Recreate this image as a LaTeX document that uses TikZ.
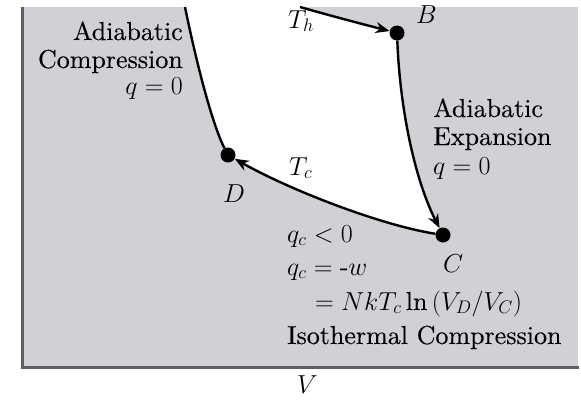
\RequirePackage{fix-cm}
\documentclass[tikz,border=0pt]{standalone}
\usepackage{fontspec}
\setmainfont{lmroman10-regular}[Extension=.otf, UprightFeatures={FakeBold=0.2}, ItalicFont=lmroman10-italic, BoldFont=lmroman10-bold]
\usetikzlibrary{arrows.meta}
\definecolor{bgray}{RGB}{208,208,213}
\definecolor{axgray}{RGB}{95,95,95}
\begin{document}
\begin{tikzpicture}[x=1pt,y=-1pt,
  lbl/.style={font=\fontsize{26}{30}\selectfont, inner sep=0pt},
  curve/.style={line width=2.4pt, black},
  flow/.style={curve, -{Stealth[length=14pt,width=11pt]}},
  dot/.style={circle, fill=black, minimum size=15pt, inner sep=0pt}]
\useasboundingbox (0,0) rectangle (581,399);
\fill[bgray] (22,7) rectangle (578,367);
\coordinate (A1) at (185,7);
\coordinate (A2) at (300,7);
\coordinate (Bc) at (397,33);
\coordinate (Cc) at (443,235);
\coordinate (Dc) at (228,155);
\fill[white] (A1) -- (A2) .. controls (335,17) and (366,25) .. (Bc)
  .. controls (400,110) and (415,180) .. (Cc)
  .. controls (380,225) and (290,190) .. (Dc)
  .. controls (215,130) and (200,80) .. (A1) -- cycle;
\node[dot] (B) at (Bc) {};
\node[dot] (C) at (Cc) {};
\node[dot] (D) at (Dc) {};
\draw[flow] (A2) .. controls (335,17) and (366,25) .. (B);
\draw[flow] (B) .. controls (400,110) and (415,180) .. (C);
\draw[flow] (C) .. controls (380,225) and (290,190) .. (D);
\draw[curve] (D) .. controls (215,130) and (200,80) .. (A1);
\draw[axgray, line width=2.5pt] (22.5,7) -- (22.5,367.5) -- (579,367.5);
% labels
\node[lbl, anchor=base east] (adL1) at (183,40) {Adiabatic};
\node[lbl, anchor=base east] (adL2) at (183,68) {Compression};
\node[lbl, anchor=base east] (adL3) at (183,94) {$q = 0$};
\node[lbl, anchor=base west] (adR1) at (433,117) {Adiabatic};
\node[lbl, anchor=base west] (adR2) at (433,145) {Expansion};
\node[lbl, anchor=base west] (adR3) at (433,174) {$q = 0$};
\node[lbl, anchor=base west] (q1) at (287,242) {$q_c < 0$};
\node[lbl, anchor=base west] (q2) at (287,275) {$q_c = \mbox{-}w$};
\node[lbl, anchor=base west] (q3) at (315,310) {$= NkT_c \ln\,(V_D/V_C)$};
\node[lbl, anchor=base west] (iso) at (287,344) {Isothermal Compression};
\node[lbl, anchor=base west] (Th) at (288,28) {$T_h$};
\node[lbl, anchor=base west] (Bl) at (416,23) {$B$};
\node[lbl, anchor=base west] (Tc) at (289,175) {$T_c$};
\node[lbl, anchor=base west] (Dl) at (223,202) {$D$};
\node[lbl, anchor=base west] (Cl) at (443,272) {$C$};
\node[lbl, anchor=base west] (Vl) at (297,393) {$V$};
\end{tikzpicture}
\end{document}
